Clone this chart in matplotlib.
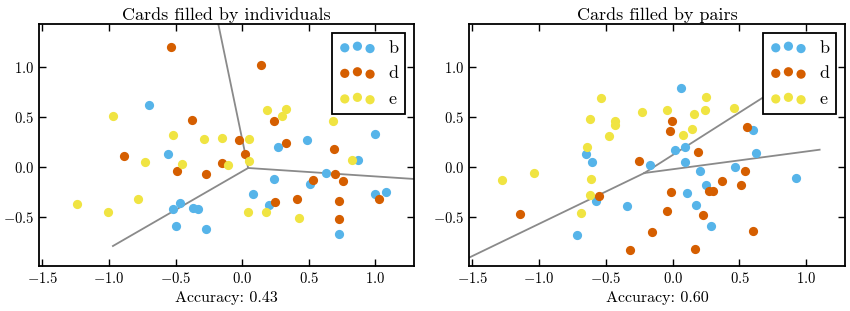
import matplotlib
matplotlib.use("Agg")
import matplotlib.pyplot as plt

plt.rcParams['font.family'] = 'serif'
plt.rcParams['font.serif'] = ['cmr10']
plt.rcParams['mathtext.fontset'] = 'cm'
plt.rcParams['axes.formatter.use_mathtext'] = True
plt.rcParams['axes.unicode_minus'] = True

classes = ['b', 'd', 'e']
colors = ['#56B4E9', '#D55E00', '#F0E442']

titles = ['Cards filled by individuals', 'Cards filled by pairs']
accuracies = ['0.43', '0.60']

# Left panel (individuals)
ind_b_x = [-0.70, 0.995, 0.49, 0.27, 0.24, -0.555, -0.47, -0.52, -0.37, -0.335, -0.50, -0.27, 0.87, 0.63, 0.51, 0.08, 0.20, 0.73, 1.00, 1.08]
ind_b_y = [0.62, 0.33, 0.27, 0.20, -0.12, 0.13, -0.36, -0.42, -0.41, -0.42, -0.59, -0.62, 0.07, -0.06, -0.17, -0.27, -0.38, -0.67, -0.27, -0.25]
ind_d_x = [-0.535, -0.38, 0.14, 0.24, -0.02, 0.33, 0.69, 0.02, -0.15, -0.27, -0.89, -0.49, 0.70, 0.76, 0.53, 0.245, 0.41, 0.73, 0.725, 1.03]
ind_d_y = [1.20, 0.47, 1.02, 0.46, 0.27, 0.24, 0.18, 0.13, 0.04, -0.07, 0.11, -0.04, -0.07, -0.14, -0.13, -0.35, -0.32, -0.34, -0.52, -0.32]
ind_e_x = [-0.97, -0.52, -0.29, -0.15, 0.185, 0.33, 0.30, 0.68, 0.05, -0.105, 0.05, -0.73, -0.455, -1.24, -0.78, -1.01, 0.825, 0.045, 0.18, 0.43]
ind_e_y = [0.51, 0.32, 0.28, 0.29, 0.57, 0.58, 0.51, 0.46, 0.28, 0.02, 0.06, 0.05, 0.03, -0.37, -0.32, -0.45, 0.07, -0.45, -0.45, -0.51]

# Right panel (pairs)
pair_b_x = [0.063, 0.60, 0.02, 0.093, -0.605, -0.17, 0.093, 0.205, 0.47, 0.625, 0.25, 0.105, -0.65, -0.575, -0.345, -0.72, 0.92, 0.175, 0.29]
pair_b_y = [0.79, 0.37, 0.17, 0.20, 0.05, 0.02, 0.05, -0.04, 0.00, 0.14, -0.18, -0.26, 0.13, -0.34, -0.39, -0.68, -0.11, -0.38, -0.59]
pair_d_x = [-0.005, -0.02, 0.555, 0.19, -0.255, 0.545, 0.37, 0.51, 0.275, 0.305, -0.01, -0.55, -1.14, -0.32, -0.155, -0.04, 0.23, 0.60, 0.165]
pair_d_y = [0.46, 0.36, 0.40, 0.15, 0.06, -0.04, -0.14, -0.18, -0.24, -0.24, -0.25, -0.29, -0.47, -0.83, -0.65, -0.44, -0.48, -0.64, -0.82]
pair_e_x = [-0.54, -0.62, -0.43, -0.43, -0.23, -0.48, -0.64, 0.25, -0.045, 0.16, 0.24, 0.46, 0.145, 0.08, -0.61, -0.62, -1.275, -1.04, -0.69]
pair_e_y = [0.69, 0.48, 0.46, 0.42, 0.55, 0.31, 0.20, 0.70, 0.57, 0.53, 0.57, 0.59, 0.38, 0.32, -0.12, -0.28, -0.13, -0.06, -0.46]

# Decision boundaries: vertex and three end points
ind_vertex = (0.045, -0.01)
ind_ends = [(-0.19, 1.50), (-0.97, -0.79), (1.35, -0.125)]
pair_vertex = (-0.212, -0.06)
pair_ends = [(-1.60, -0.955), (1.00, 0.97), (1.10, 0.173)]

panels = [
    ([(ind_b_x, ind_b_y), (ind_d_x, ind_d_y), (ind_e_x, ind_e_y)], ind_vertex, ind_ends),
    ([(pair_b_x, pair_b_y), (pair_d_x, pair_d_y), (pair_e_x, pair_e_y)], pair_vertex, pair_ends),
]

fig = plt.figure(figsize=(8.5, 3.11), dpi=100)
rects = [[39/850, 45/311, 375/850, 242/311], [469/850, 45/311, 376/850, 242/311]]

for i, (series, vertex, ends) in enumerate(panels):
    ax = fig.add_axes(rects[i])
    for (ex, ey) in ends:
        ax.plot([vertex[0], ex], [vertex[1], ey], color='#8a8a8a', lw=1.3, zorder=1)
    for (xs, ys), lab, c in zip(series, classes, colors):
        ax.scatter(xs, ys, s=44, c=c, linewidths=0, label=lab, zorder=2)
    ax.set_xlim(-1.525, 1.29)
    ax.set_ylim(-0.99, 1.43)
    ax.set_xticks([-1.5, -1.0, -0.5, 0.0, 0.5, 1.0])
    ax.set_yticks([-0.5, 0.0, 0.5, 1.0])
    ax.tick_params(direction='in', top=True, right=True, length=5, width=1, labelsize=10.5, colors='black')
    for sp in ax.spines.values():
        sp.set_linewidth(1.3)
    ax.set_title(titles[i], fontsize=13, pad=3)
    ax.set_xlabel('Accuracy: ' + accuracies[i], fontsize=11.5, labelpad=4)
    leg = ax.legend(loc='upper right', scatterpoints=3, fontsize=13, frameon=True,
                    fancybox=False, edgecolor='black', framealpha=1,
                    borderpad=0.4, labelspacing=0.55, handletextpad=0.7, borderaxespad=0.48)
    leg.get_frame().set_linewidth(1.3)

fig.savefig('out.png', dpi=100)
